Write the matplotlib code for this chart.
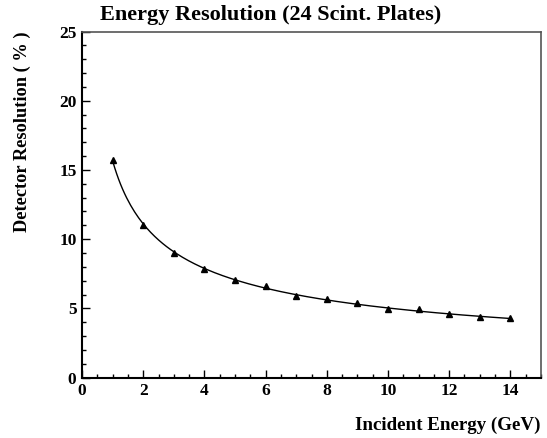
import numpy as np
import matplotlib.pyplot as plt
from matplotlib.ticker import MultipleLocator

energy = [1, 2, 3, 4, 5, 6, 7, 8, 9, 10, 11, 12, 13, 14]
resolution = [15.73, 11.03, 9.02, 7.82, 7.03, 6.62, 5.87, 5.65, 5.36, 4.93, 4.93, 4.59, 4.35, 4.32]

plt.rcParams['font.family'] = ['Liberation Serif', 'DejaVu Serif']
plt.rcParams['font.weight'] = 'bold'

fig = plt.figure(figsize=(5.47, 4.38), dpi=100)
ax = fig.add_axes([0.15, 0.138, 0.839, 0.79])

# fit a/sqrt(E) + b to the measured points
e = np.array(energy, dtype=float)
r = np.array(resolution)
a, b = np.polyfit(1 / np.sqrt(e), r, 1)
ef = np.linspace(e.min(), e.max(), 200)
ax.plot(ef, a / np.sqrt(ef) + b, color='black', lw=1)
ax.plot(energy, resolution, '^', color='black', ms=4)

ax.set_xlim(0, 15)
ax.set_ylim(0, 25)
ax.xaxis.set_major_locator(MultipleLocator(2))
ax.xaxis.set_minor_locator(MultipleLocator(0.5))
ax.yaxis.set_major_locator(MultipleLocator(5))
ax.yaxis.set_minor_locator(MultipleLocator(1))
ax.tick_params(which='both', direction='in', top=False, right=False, labelsize=12.5)
ax.tick_params(which='major', length=6, width=1, pad=4)
ax.tick_params(which='minor', length=3, width=1)
for lbl in ax.get_xticklabels() + ax.get_yticklabels():
    lbl.set_fontweight('bold')
for s in ['left', 'bottom']:
    ax.spines[s].set_linewidth(1.5)
for s in ['top', 'right']:
    ax.spines[s].set_linewidth(1.2)
    ax.spines[s].set_color('#555555')

fig.text(0.183, 0.966, 'Energy Resolution (24 Scint. Plates)', fontsize=16,
         fontweight='bold', ha='left', va='center')
fig.text(0.04, 0.928, 'Detector Resolution ( % )', fontsize=13.2, fontweight='bold',
         rotation=90, ha='center', va='top')
fig.text(0.988, 0.03, 'Incident Energy (GeV)', fontsize=13.7, fontweight='bold',
         ha='right', va='center')

fig.savefig('out.png', dpi=100)
